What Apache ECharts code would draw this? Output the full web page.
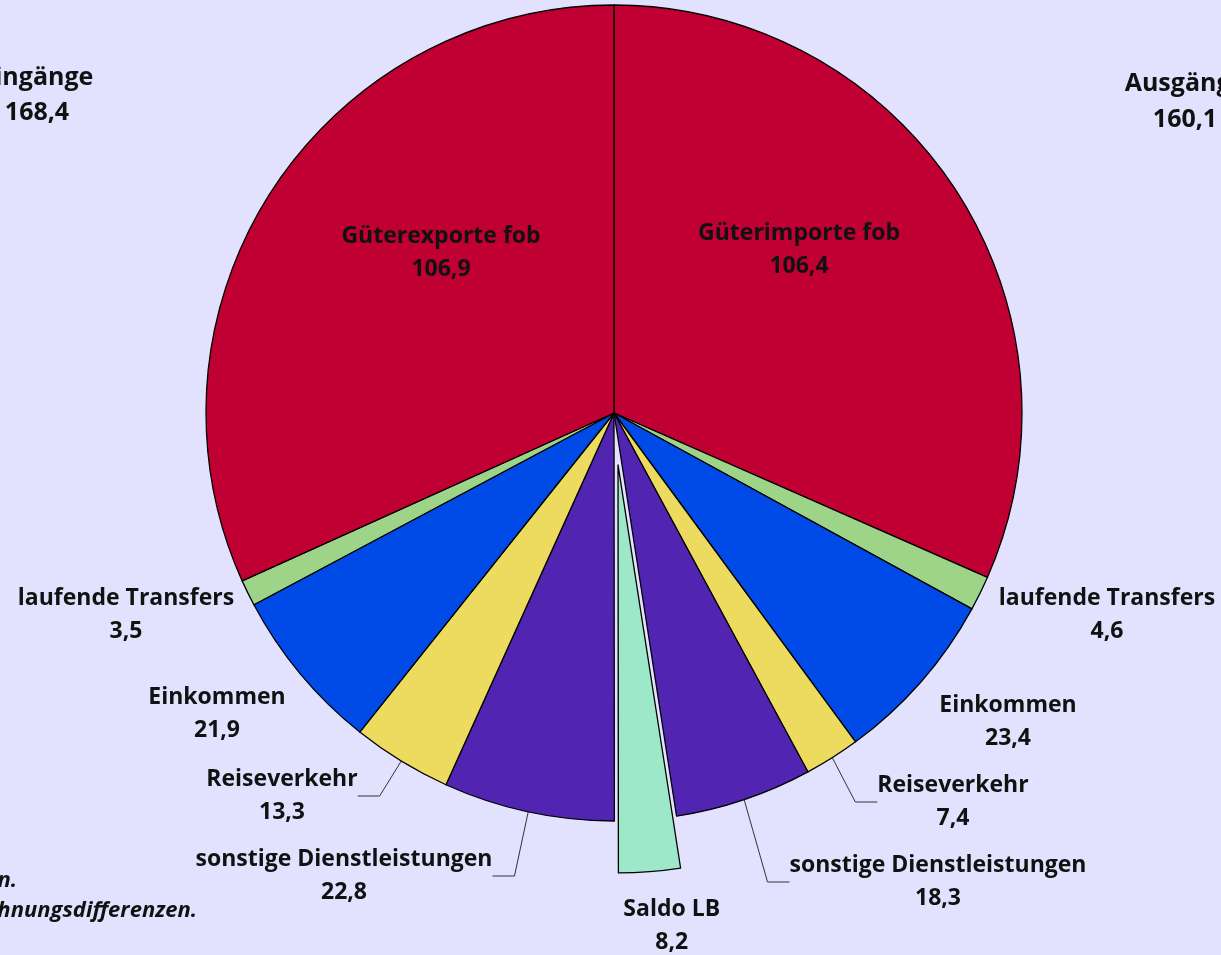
<!DOCTYPE html>
<html>
<head>
<meta charset="utf-8">
<script src="https://cdn.jsdelivr.net/npm/echarts@6/dist/echarts.min.js"></script>
<style>
  html, body { margin: 0; padding: 0; background: #e2e2ff; }
  #chart { width: 1221px; height: 955px; }
</style>
</head>
<body>
<div id="chart"></div>
<script>
// Ausgänge (right half, clockwise from top)
const outgoingNames = ["Güterimporte fob", "laufende Transfers", "Einkommen", "Reiseverkehr", "sonstige Dienstleistungen"];
const outgoingValues = [106.4, 4.6, 23.4, 7.4, 18.3];
const outgoingTotal = 160.1;

// Saldo der Leistungsbilanz, exploded slice
const balanceName = "Saldo LB";
const balanceValue = 8.2;

// Eingänge (left half, clockwise from bottom)
const incomingNames = ["sonstige Dienstleistungen", "Reiseverkehr", "Einkommen", "laufende Transfers", "Güterexporte fob"];
const incomingValues = [22.8, 13.3, 21.9, 3.5, 106.9];
const incomingTotal = 168.4;

const footnotes = ["n.", "hnungsdifferenzen."];

const COLORS = {
  "Güterimporte fob": "#c00032",
  "Güterexporte fob": "#c00032",
  "laufende Transfers": "#9dd487",
  "Einkommen": "#004be8",
  "Reiseverkehr": "#ecdb5f",
  "sonstige Dienstleistungen": "#5224b2",
  "Saldo LB": "#9de8c8"
};

// label centres, same order as the slices
const LABEL_POS = [
  [799, 250], [1107, 615], [1008, 722], [953, 802], [938, 882],
  [672, 925],
  [344, 876], [282, 796], [217, 714], [126, 615], [441, 253]
];
const WITH_LEADER = [3, 4, 6, 7];

function fmt(v) {
  return String(v).replace(".", ",");
}

const names = outgoingNames.concat([balanceName], incomingNames);
const values = outgoingValues.concat([balanceValue], incomingValues);

const pieData = names.map((name, i) => {
  const item = {
    name: name,
    value: values[i],
    itemStyle: { color: COLORS[name] },
    labelLine: { show: WITH_LEADER.indexOf(i) >= 0 }
  };
  if (name === balanceName) {
    // the selected label keeps the native outside spot, so steer it via the line lengths
    item.selected = true;
    item.labelLine = { show: false, length: 54, length2: 13 };
  }
  return item;
});

const FONT = {
  fontFamily: "Open Sans",
  fontWeight: "bold",
  fontSize: 23,
  lineHeight: 33,
  color: "#111"
};

const chart = echarts.init(document.getElementById("chart"), null, { renderer: "canvas" });

chart.setOption({
  backgroundColor: "#e2e2ff",
  animation: false,
  series: [{
    type: "pie",
    center: [614, 413],
    radius: 408,
    startAngle: 90,
    clockwise: true,
    avoidLabelOverlap: false,
    selectedMode: "single",
    selectedOffset: 52,
    itemStyle: { borderColor: "#000", borderWidth: 1.3 },
    label: {
      show: true,
      position: "outside",
      formatter: (p) => p.name + "\n" + fmt(p.value),
      align: "center",
      ...FONT
    },
    labelLine: {
      length: 30,
      length2: 22,
      lineStyle: { color: "#333", width: 1 }
    },
    emphasis: { disabled: true },
    labelLayout: (params) => {
      const pos = LABEL_POS[params.dataIndex];
      return { x: pos[0], y: pos[1], align: "center", verticalAlign: "middle" };
    },
    data: pieData
  }],
  graphic: [
    {
      type: "text", x: 37, y: 95,
      style: { text: "Eingänge\n" + fmt(incomingTotal), align: "center", verticalAlign: "middle", fill: "#111", font: "bold 25px 'Open Sans'", lineHeight: 35 }
    },
    {
      type: "text", x: 1185, y: 102,
      style: { text: "Ausgänge\n" + fmt(outgoingTotal), align: "center", verticalAlign: "middle", fill: "#111", font: "bold 25px 'Open Sans'", lineHeight: 36 }
    },
    {
      type: "text", x: 17, y: 881,
      style: { text: footnotes[0], align: "right", verticalAlign: "middle", fill: "#111", font: "italic bold 22px 'Open Sans'" }
    },
    {
      type: "text", x: 197, y: 911,
      style: { text: footnotes[1], align: "right", verticalAlign: "middle", fill: "#111", font: "italic bold 22px 'Open Sans'" }
    }
  ]
});
</script>
</body>
</html>
